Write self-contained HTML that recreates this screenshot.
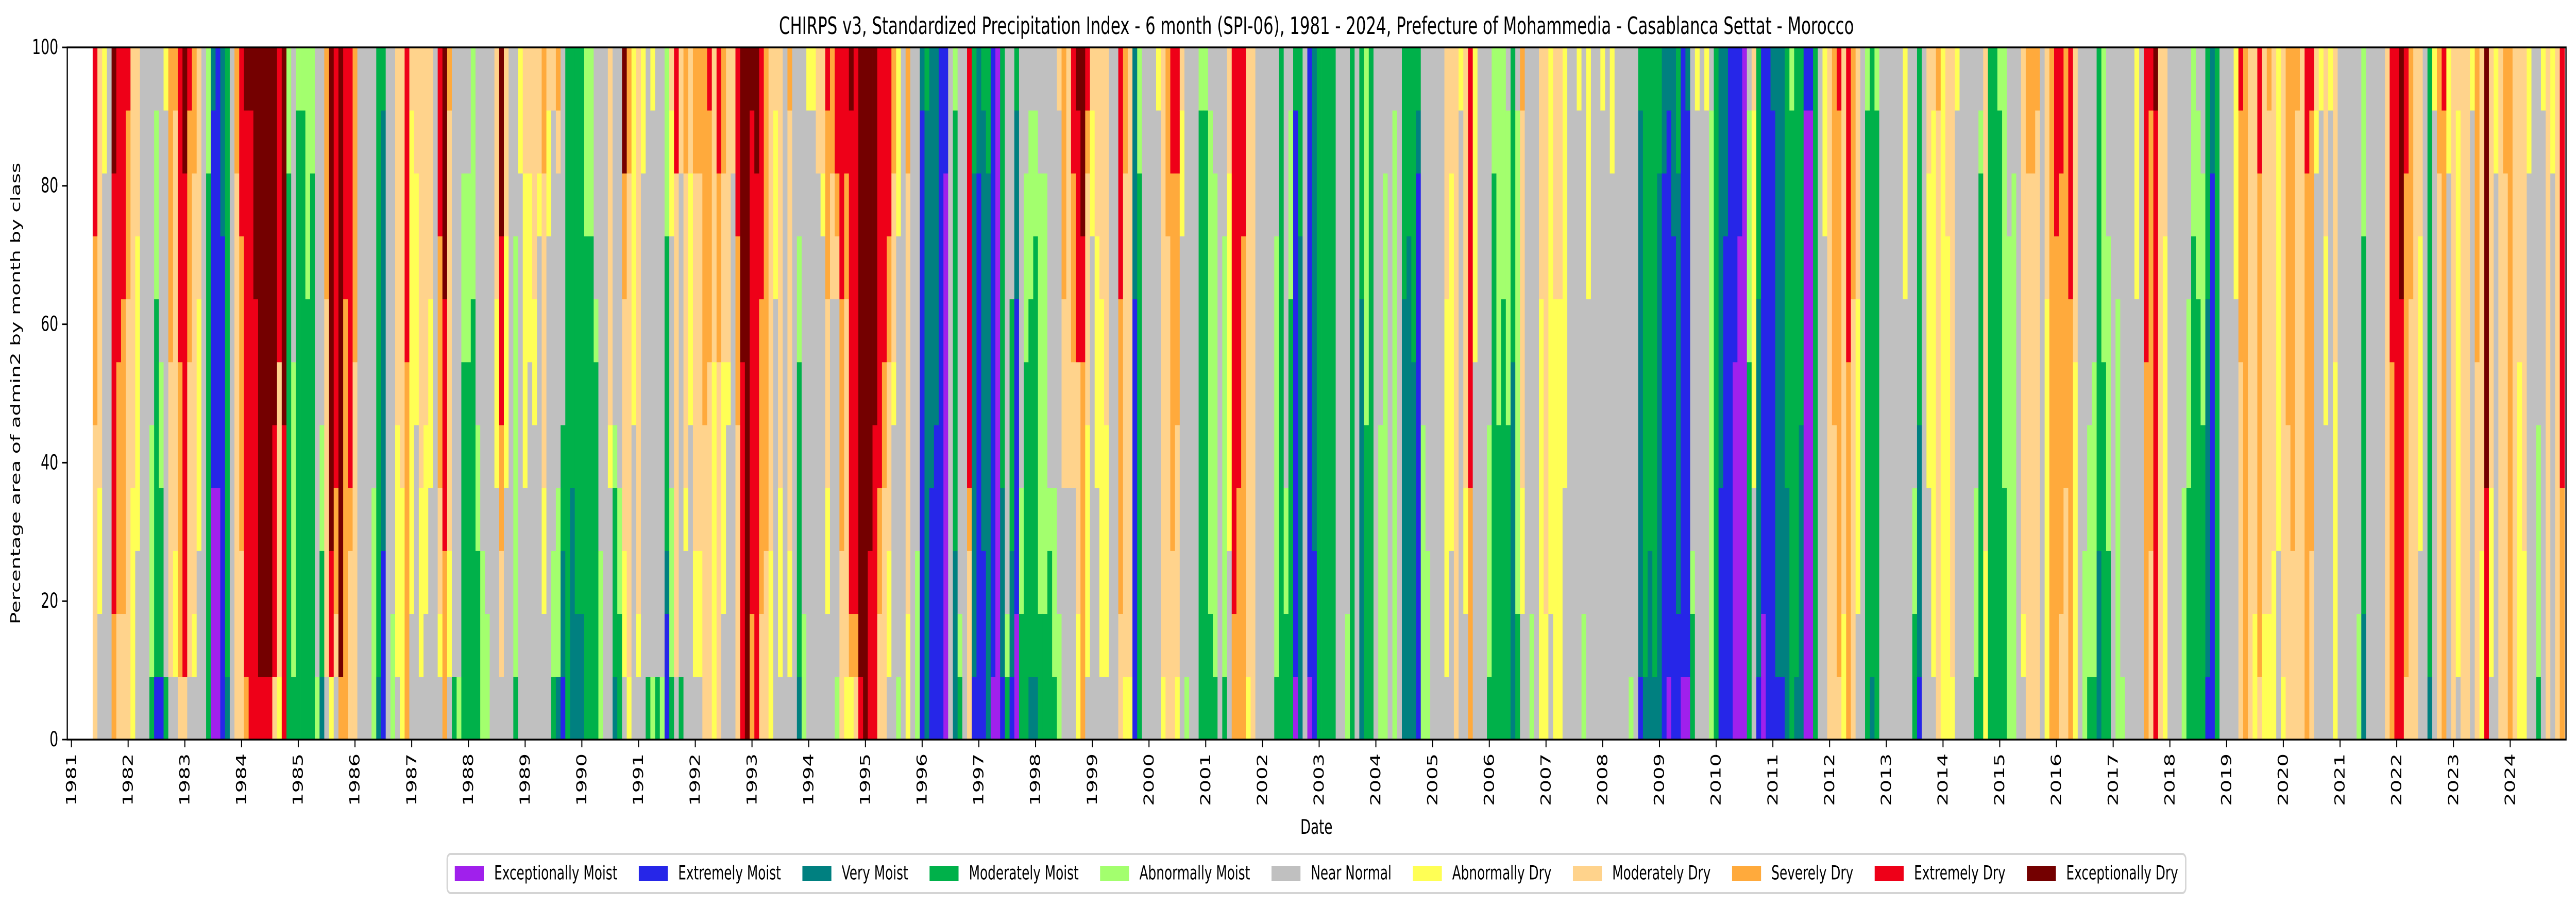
<!DOCTYPE html>
<html><head><meta charset="utf-8"><title>CHIRPS v3 SPI-06 Mohammedia</title>
<style>
html,body{margin:0;padding:0;background:#fff;overflow:hidden;width:100%;height:100%;}
#chart{width:100vw;height:100vh;display:block;}
</style></head>
<body>
<svg id="chart" viewBox="0 0 7467 1763" preserveAspectRatio="none" xmlns="http://www.w3.org/2000/svg">
<rect x="0" y="0" width="7467" height="1763" fill="#fff"/>
<text x="3816" y="66" text-anchor="middle" font-size="46" font-family="DejaVu Sans, Liberation Sans, sans-serif">CHIRPS v3, Standardized Precipitation Index - 6 month (SPI-06), 1981 - 2024, Prefecture of Mohammedia - Casablanca Settat - Morocco</text>
<g id="bars"></g>
<g id="axes"></g>
<text transform="translate(58,764) rotate(-90)" text-anchor="middle" font-size="39" font-family="DejaVu Sans, Liberation Sans, sans-serif">Percentage area of admin2 by month by class</text>
<text x="3816" y="1619" text-anchor="middle" font-size="39" font-family="DejaVu Sans, Liberation Sans, sans-serif">Date</text>
<g id="legend"></g>
</svg>
<script>
const classCodes = ['a','b','c','d','e','n','f','g','h','i','j'];
const classNames = ['Exceptionally Moist','Extremely Moist','Very Moist','Moderately Moist','Abnormally Moist','Near Normal','Abnormally Dry','Moderately Dry','Severely Dry','Extremely Dry','Exceptionally Dry'];
const classColors = ['#a020ec','#2626e8','#008080','#00b14a','#a3ff6e','#c0c0c0','#ffff55','#ffd38c','#ffaa3c','#ee0018','#740000'];
const startYear = 1981;
const startMonth = 6;
const yTicks = [0,20,40,60,80,100];
const xTickYears = [1981,1982,1983,1984,1985,1986,1987,1988,1989,1990,1991,1992,1993,1994,1995,1996,1997,1998,1999,2000,2001,2002,2003,2004,2005,2006,2007,2008,2009,2010,2011,2012,2013,2014,2015,2016,2017,2018,2019,2020,2021,2022,2023,2024];
const monthClasses = [
"ggggghhhiii","nnffggggggg","nnnnnnnnnff","nnnnnnnnnnn","hhiiiiiiijj","gghhhhiiiii","gghhhhhiiii","ggggggghhhi","ffffggggggg","nnnfffffggg",
"nnnnnnnnnnn","nnnnnnnnnnn","deeeennnnnn","bddddddeeen","bdddeennnnn","dnnnnnnnnnf","nggggghhhhh","nffgggggggh","ghhhhhiiiii","giiiiiiiijj",
"nggggghhhhi","nfggggggghh","nnnffffgggg","nnnnnnnnnnn","dddddddddee","aaaabbbbbbc","aaaabbbbbbb","bbbbbbbbccc","cdddddddddd","nnnnnnnnnnn",
"ggggggggghh","ggghhhhhiii","hiiiiiiiiij","iiiiiiiiiij","iiiiiiijjjj","ijjjjjjjjjj","ijjjjjjjjjj","ijjjjjjjjjj","giiiijjjjjj",
"fgggggiiiii","iiiiijjjjjj","dddddddddee","deeeeennnnn","dddddddddde","dddddddddde","dddddddeeee","dddddddddee","ennnnnnnnnn","cddeennnnnn",
"ngggggghhhh","fiijjjjjjjj","nghhiiiiiii","hjjjjjjjjjj","hhhhhhhiiii","ggghiiiiiii","gggggghhhhh","nnnnnnnnnnn","nnnnnnnnnnn","nnnnnnnnnnn",
"eeeennnnnnn","cdddddddddd","bbbcccccccd","nnnnnnnnnnn","eennnnnnnnn","nffffgggggg","ffffggggggg","hhhhhhiiiii","nnffffffffg","nnnnnffffgg",
"nfffggggggg","nnfffgggggg","nnnnfffgggg","nnnnnnnnnnn","nfgghhhhiii","hhhiiiijjjj","nffgggggggh","dnnnnnnnnnn","ennnnnnnnnn","ddddddeeenn",
"ddddddeeenn","dddddddeeee","dddeennnnnn","eeennnnnnnn","eennnnnnnnn","nnnnnnnnnnn","nnnnfffgggg","ngghhiiijjj","nnnnffffggg","nnnnnnnnnnn",
"deeeeeeennn","nnnnnnnnnff","nnnnfffffgg","nnnnnnfffgg",
"nnnnnffgggg","nnnnnnnnfgg","nnffggggghh","nnnnnnnnffg","deennnnnnng","ceeennnnngh","bccddnnnnnn","ddddddddddd","ccccddddddd","ccddddddddd",
"ccddddddddd","ddddddddeee","ddddddddeee","ddddddennnn","eeennnnnnnn","nnnnnnnnnnn","nnnnfgggggg","cdddennnnnn","ddeennnnnnn","nffgggghhjj",
"fgggggggghh","nnnnnffffff","nfggggggggg","nnnnnnnnnff","dnnnnnnnnnn","ennnnnnnnnf","dnnnnnnnnnn","ennnnnnnnnn","bbcdddddeee","deeennnnffg",
"nggggggggii","dnnnnnnnngg","nnnfggggghh","nnnnnffffgg","nffgggggghh","nffgggggghh","ggggghhhhhh","gggggghhhhi","ffffffggggg","gggggghhhii",
"nnffffggghh","nnnnnfggggg","nnnnnnnnngg","ggggghhhiii","iiiiiijjjjj","jjjjjjjjjjj","hhiiiiiiiij","iiiiiiiiijj","gghhhhhiiii","ggghhhhhhhh",
"fffgggggggg","nnnnnnnfffg","nfffggggggg",
"nnnnnnnnnnn","nffgggggggh","nnnnnnnnnnn","cdddddeennn","eennnnnnnnn","nnnnnnnnnnf","nnnnnnnnnnf","nnnnnnnnngg","nnnnnnnnfgg","nnffggghhhi",
"nnnnnnngghh","ennnnnnghii","ggghhhhiiii","fgggggghhii","fhiiiiiiiij","ghiiiiiiiii","ijjjjjjjjjj","jjjjjjjjjjj","iiijjjjjjjj","iiiiijjjjjj",
"gghhiiiiiii","gggghhiiiii","nffggghhiii","nnnnnfggghh","ennnnnnnfff","nnnnnnnnnnn","ffggggggghh","nnnnnnnnnnn","eeennnnnnnn","bbbbbbbbbbc",
"ccccccccccd","bbbbccccccc","bbbbbcccccc","bbbbbbbbbbb","aaaaaaaaabb","nnnnnnnnnnn","cccddddddde","dennnnnnnnn","nnnnnnnnnnn","ggghiiiiiii",
"bccccccccdd","bbbbbbbbbcc","bbbcccccccd","cccccccccdd","abbbbbbbbbb","aaaaaaaaaaa","bcccddddddd","dennnnnnnnn","bccddddnnnn","aabbbbbcccd",
"ddeennnnnnn","ddddddeeenn","cddddddeeen","cdddddddeen",
"ddeeeeeeenn","ddeeeeeeenn","dddennnnnnn","deeennnnnnn","eennnnnnnng","nnnnggghhhh","nnnnggggggg","nnnngghhhii","ffggggiiiij","hhhhhhiijjj",
"nffffgggghi","nnnnnnnnffg","nnnnffffggg","nffffffgggg","nffffgggggg","nnnnnnnnnnn","nnnnnnnnnnn","gghhhhhiiii","fgggggggghh","fgggggggggg",
"bbbbbbbcccc","dddddddddee","nnnnnnnnnnn","nnnnnnnnnnn","nnnnnnnnnnn","nnnnnnnnnnf","fgggggggggg","gggggggghhh","ggghhhhhhii","fgggghhhhii",
"nnnnnnnnffg","ennnnnnnnnn","nnnnnnnnnnn","nnnnnnnnnnn","dddddddddde","dddddddddde","ddeeeeeeeen","deeeeeeeenn","nnnnnnnnnnn","deeeeeeennn",
"nnnffffffgg","hhiiiiiiiii","hhhhiiiiiii","hhhhhhhhiii","fgggggggggg","ggggggggggg","nnnnnnnnnnn","nnnnnnnnnnn","nnnnnnnnnnn","nnnnnnnnnnn",
"deeeeeeennn","ddddddddddd","ddeennnnnnn","dddddddeeen",
"abbbbbbbbbd","ccccccccddd","nnnnnnnnnnn","abbbbbbbbbb","bbbcccccccc","ddddddddddd","ddddddddddd","ddddddddddd","ddddddddddd","nnnnnnnnnnn",
"nnnnnnnnnnn","eennnnnnnnn","ddddddddddd","nnnnnnnnnnn","cccccccdddd","dddddeeeeee","ddddddddddd","nnnnnnnnnnn","eeeeennnnnn","eeeeeeeeenn",
"nnnnnnnnnnn","eeeeeeeeeen","nnnnnnnnnnn","cccccccdddd","ccccccccddd","ccccccddddd","bbbbbbbbbcd","eeeeennnnnn","eeennnnnnnn","nnnnnnnnnnn",
"nnnnnnnnnnn","nnnnnnnnnnn","nffffffgggg","nnnffffffgg","ggggggggggg","nnnnnnnnnnf","nnffggggggg","hhhhiiiiiii","nnnnnnfffff","nnnnnnnnnnn",
"nnnnnnnnnnn","deeeennnnnn","dddddddddee","dddddeeeeee","dddddddeeee","dddddeeeeen","ccccccddddd","ddeeeeeeeen","nnffggggggh","nnnnnnnnnnn",
"eennnnnnnnn","nnnnnnnnnnn","fffffffgggg","ffggggggggg",
"nnfffffffff","fffffffgggg","fffffffgggg","nnnnfffffff","nnnnnnnnnnn","nnnnnnnnnnn","nnnnnnnnnnf","eennnnnnnnn","nnnnnnnffff","nnnnnnnnnnn",
"nnnnnnnnnnn","nnnnnnnnnnf","nnnnnnnnnnn","nnnnnnnnnff","nnnnnnnnnnn","nnnnnnnnnnn","nnnnnnnnnnn","ennnnnnnnnn","nnnnnnnnnnn","bcccccccccd",
"cdddddddddd","cccdddddddd","cdddddddddd","cccccccccdd","bbbbbbbbbcc","abbbbbbbbbc","bbbbbbbbccc","bbcccccccdd","abbbbbbbbbb","abbbbbbbbbc",
"ddennnnnnnn","nnnnnnnnnnf","nnnnnnnnnnn","nnnnnnnnnnf","eeeeeeeeeen","ddddddddddd","bbbbccccccc","bbbbbbbbccc","bbbbbbbbbbb","aaaaaabbbbb",
"aaaaaaaabbb","aaaaaaaaaaa","ddddddeeeen","nnnnffffffg","bccccccdddd","aabbbbbbbbb","bbbbbbbbbbb","bbbbbbbbbbc","bcccccccccc","bcccccccccc",
"ccccddddddd","dddddddddde","cdddddddddd","cccccdddddd",
"aaaaaaaaaab","aaaaaaaaaab","ddddddddddd","nnnnnnnnnnn","nnnnnnnnfff","ggggggggggg","ggggghhhhhh","ghhhhhhhhhi","ffggggggggg","hhhhhhiiiii",
"ggggggghhhh","nnfffffgggg","nnnnnnnnnnn","dddddddddde","cdddddddddd","dddddddddde","nnnnnnnnnnn","nnnnnnnnnnn","nnnnnnnnnnn","nnnnnnnnnnn",
"nnnnnnnnnnn","nnnnnnnffff","nnnnnnnnnnn","ddeennnnnnn","bccccdddddd","nnnnnnnnnnn","nnnnfffffgg","nfffffffffg","ggggggggggh","fffffffffff",
"ffffffffggg","fgggggggggg","nnnnnnnnnnf","nnnnnnnnnnn","nnnnnnnnnnn","nnnnnnnnnnn","deeennnnnnn","ddddddddden","fffgggggggg","ddddddddddd",
"ddddddddddd","dddddddddde","ddddeeeeeee","eeeeeeeennn","eeeeeeeeenn","nnnnnnnnnnn","nfggggggggg","ggggggggghh","ggggggggghh","ggggggggggh",
"nnnnnnnnnnn","fffffffgggg","hhhhhhhhhhh","hhhhhhhhiii",
"gghhhhhhhii","gggghhhhhhh","hhhhhhhiiii","ffffffggggg","nnnnnnnnnnn","eeennnnnnnn","deeeennnnnn","deeeeennnnn","cccdddddddd","ddddddeeeee",
"dddeeeeennn","nnnnnnnnnnn","eeeeeeennnn","ennnnnnnnnn","nnnnnnnnnnn","nnnnnnnnnnn","nnnnnnnffff","nnnnnnnnnnn","hhhhhhiiiii","ggghhhhhhhi",
"iiiiiiiiiij","ggggggggggg","ffffffffggg","nnnnnnnnnnn","nnnnnnnnnnn","nnnnnnnnnnn","eeeennnnnnn","ddddeeennnn","ddddddddeee","dddddddeeen",
"dddddeeeenn","bccccccdddd","bbbbbbbbbcc","ddddddddddd","nnnnnnnnnnn","nnnnnnnnnnn","nnnnnnnnnnn","nnnnnnnffff","gggggghhhhi","hhhhhhhhhhh",
"ggggggggggg","ffggggggggg","ghhhhhhhhii","ffggggggggg","ffggggggggh","fffgggggggg","nnnffffffff","fgggggggggg","ggggghhhhhh","ggghhhhhhhh",
"ggggggggggh","ggggggggggg","hhhhhhhhhii","ggghhhhhhhi",
"nnnnnnnnnfg","nnnnnnnnnnf","nnnnnfffggg","nnnnnnnnnnf","ffffffggggg","nnnnnnnnnnn","nnnnnnnnnnn","nnnnnnnnnnn","nnnnnnnnnnn","eennnnnnnnn",
"ccddddddeee","nnnnnnnnnnn","nnnnnnnnnnn","nnnnnnnnnnn","nnnnnnnnnnn","ggggggggggg","hhhhhhiiiii","iiiiiiiiiii","iiiiiiijjjj","ghhhhhhhhii",
"ggggggghhhh","ggggggggggg","nnnfffffggg","nnnnnnnnnnn","cdddddddddd","nnnnnnnnnnf","ggggggggghh","hhhhhhhhhhi","nnnnnnnnnff","ggggggggggg",
"nfffffffffg","ggggggggggg","ggggggggggg","nnnnnnnnnnf","gggggghhhhh","fffgggggggg","iiiijjjjjjj","nfffggggggg","nnnnnnnnnff","ggggggggggg",
"ggggggggghh","hhhhhhhhhhh","ggggggggggg","ffffffggggg","fffgggggggg","nnnnnnnnnff","nnnnnnnnnnn","deeeennnnnn","nnnnnnnnnnf","ggggggggggg",
"nnnnnnnnnff","ggggggggggg","hhhhiiiiiii"
];

const NS = 'http://www.w3.org/2000/svg';
const FONT = 'DejaVu Sans, Liberation Sans, sans-serif';
const plotLeft = 195, plotRight = 7438, plotTop = 92, plotBottom = 1436;
const pxPerYear = 164.4, xOrigin = 207;
function xScale(t){ return xOrigin + (t - 1981) * pxPerYear; }
function yScale(p){ return plotBottom - p * (plotBottom - plotTop) / 100; }
function mk(tag, attrs){ const e = document.createElementNS(NS, tag); for (const k in attrs) e.setAttribute(k, attrs[k]); return e; }

const barsG = document.getElementById('bars');
const barW = pxPerYear / 12;
monthClasses.forEach(function(s, i){
  const t = startYear + (startMonth - 1 + i) / 12;
  const xc = xScale(t);
  const total = s.length;
  let cum = 0;
  classCodes.forEach(function(code, ci){
    let cnt = 0;
    for (const ch of s) if (ch === code) cnt++;
    if (!cnt) return;
    const p0 = cum / total * 100, p1 = (cum + cnt) / total * 100;
    cum += cnt;
    const r = mk('rect', {x: (xc - barW/2).toFixed(2), y: yScale(p1).toFixed(2), width: (barW + 0.6).toFixed(2), height: (yScale(p0) - yScale(p1) + 0.4).toFixed(2), fill: classColors[ci]});
    
    
    barsG.appendChild(r);
  });
});

const axesG = document.getElementById('axes');
const frame = mk('rect', {x: plotLeft, y: plotTop, width: plotRight - plotLeft, height: plotBottom - plotTop, fill: 'none', stroke: '#000', 'stroke-width': 3.5});


axesG.appendChild(frame);

yTicks.forEach(function(v){
  const y = yScale(v);
  const tk = mk('line', {x1: plotLeft - 15, x2: plotLeft, y1: y, y2: y, stroke: '#000', 'stroke-width': 3});
  
  
  axesG.appendChild(tk);
  const lb = mk('text', {x: plotLeft - 26, y: y, 'text-anchor': 'end', 'dominant-baseline': 'central', 'font-size': 40, 'font-family': FONT});
  lb.textContent = String(v);
  
  
  axesG.appendChild(lb);
});

xTickYears.forEach(function(yr){
  const x = xScale(yr);
  const tk = mk('line', {x1: x, x2: x, y1: plotBottom, y2: plotBottom + 15, stroke: '#000', 'stroke-width': 3});
  
  
  axesG.appendChild(tk);
  const lb = mk('text', {transform: 'translate(' + x.toFixed(1) + ',' + (plotBottom + 27) + ') rotate(-90)', 'text-anchor': 'end', 'dominant-baseline': 'central', 'font-size': 40, 'font-family': FONT});
  lb.textContent = String(yr);
  
  
  axesG.appendChild(lb);
});

const legendG = document.getElementById('legend');
const legTop = 1658, legH = 76, swW = 84, swH = 30, swGap = 30, itemGap = 62, padX = 22;
const legFrame = mk('rect', {x: 0, y: legTop, width: 10, height: legH, rx: 10, ry: 10, fill: '#fff', stroke: '#d4d4d4', 'stroke-width': 4});


legendG.appendChild(legFrame);
const legItems = [];
classNames.forEach(function(nm, i){
  const g = mk('g', {});
  
  
  const sw = mk('rect', {x: 0, y: legTop + (legH - swH)/2, width: swW, height: swH, fill: classColors[i]});
  
  
  const tx = mk('text', {x: swW + swGap, y: legTop + legH/2, 'dominant-baseline': 'central', 'font-size': 37, 'font-family': FONT});
  tx.textContent = nm;
  
  
  g.appendChild(sw); g.appendChild(tx);
  legendG.appendChild(g);
  legItems.push({g: g, tx: tx});
});
let widths = legItems.map(function(it){ let w = 0; try { w = it.tx.getComputedTextLength(); } catch(e) {} return w || it.tx.textContent.length * 21; });
let totalW = padX * 2 + widths.reduce(function(a, w){ return a + swW + swGap + w; }, 0) + itemGap * (legItems.length - 1);
let cx = 3816 - totalW / 2;
legFrame.setAttribute('x', cx.toFixed(1));
legFrame.setAttribute('width', totalW.toFixed(1));
let curX = cx + padX;
legItems.forEach(function(it, i){
  it.g.setAttribute('transform', 'translate(' + curX.toFixed(1) + ',0)');
  curX += swW + swGap + widths[i] + itemGap;
});
</script>
</body></html>
